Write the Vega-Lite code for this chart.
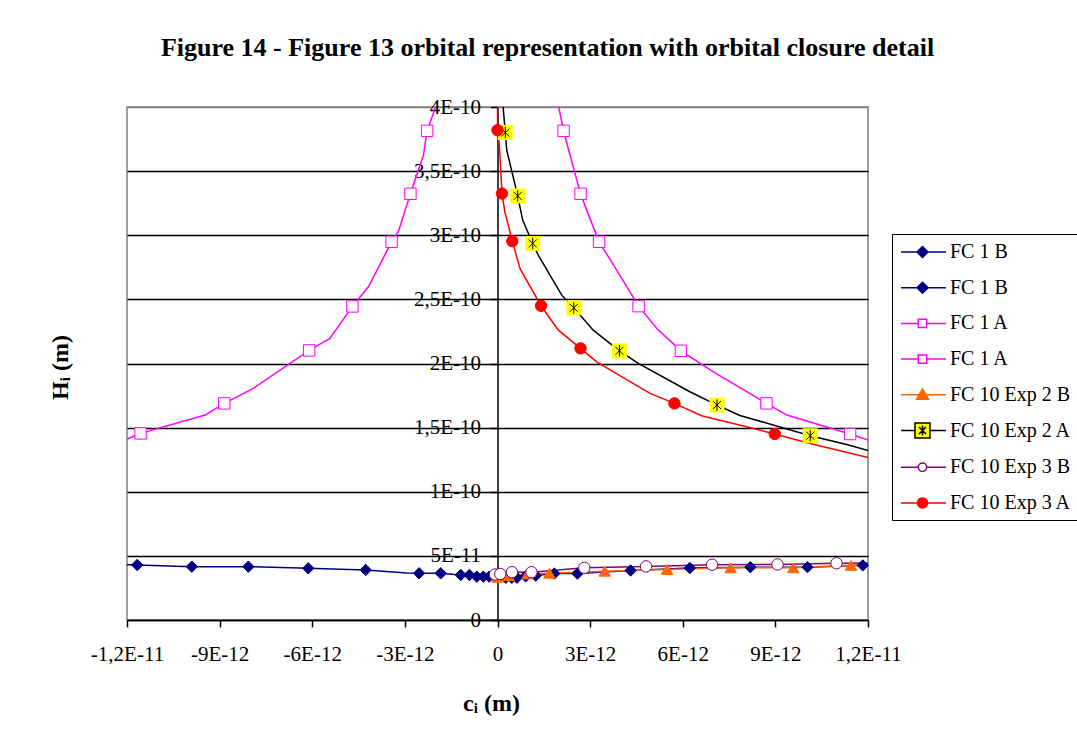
{
  "$schema": "https://vega.github.io/schema/vega-lite/v6.json",
  "width": 741,
  "height": 513,
  "autosize": {"type": "none"},
  "padding": {"left": 127, "top": 107, "right": 209, "bottom": 120},
  "background": "white",
  "title": {
    "text": "Figure 14 - Figure 13 orbital representation with orbital closure detail",
    "font": "Liberation Serif",
    "fontSize": 26,
    "fontWeight": "bold",
    "color": "black",
    "anchor": "middle",
    "frame": "group",
    "dx": 50,
    "offset": 35
  },
  "datasets": {
    "lines": [
      {"s": "FC 1 B", "i": 1, "c": -1.23e-11, "h": 4.34e-11},
      {"s": "FC 1 B", "i": 2, "c": -1.167e-11, "h": 4.29e-11},
      {"s": "FC 1 B", "i": 3, "c": -9.9e-12, "h": 4.16e-11},
      {"s": "FC 1 B", "i": 4, "c": -8.07e-12, "h": 4.16e-11},
      {"s": "FC 1 B", "i": 5, "c": -6.13e-12, "h": 4.03e-11},
      {"s": "FC 1 B", "i": 6, "c": -4.27e-12, "h": 3.9e-11},
      {"s": "FC 1 B", "i": 7, "c": -2.94e-12, "h": 3.66e-11},
      {"s": "FC 1 B", "i": 8, "c": -2.54e-12, "h": 3.64e-11},
      {"s": "FC 1 B", "i": 9, "c": -1.84e-12, "h": 3.64e-11},
      {"s": "FC 1 B", "i": 10, "c": -1.19e-12, "h": 3.51e-11},
      {"s": "FC 1 B", "i": 11, "c": -9.1e-13, "h": 3.51e-11},
      {"s": "FC 1 B", "i": 12, "c": -6.7e-13, "h": 3.38e-11},
      {"s": "FC 1 B", "i": 13, "c": -4.6e-13, "h": 3.38e-11},
      {"s": "FC 1 B", "i": 14, "c": -2.7e-13, "h": 3.38e-11},
      {"s": "FC 1 B ", "i": 1, "c": 2.7e-13, "h": 3.3e-11},
      {"s": "FC 1 B ", "i": 2, "c": 4.6e-13, "h": 3.3e-11},
      {"s": "FC 1 B ", "i": 3, "c": 6.3e-13, "h": 3.3e-11},
      {"s": "FC 1 B ", "i": 4, "c": 9.1e-13, "h": 3.4e-11},
      {"s": "FC 1 B ", "i": 5, "c": 1.24e-12, "h": 3.46e-11},
      {"s": "FC 1 B ", "i": 6, "c": 1.84e-12, "h": 3.62e-11},
      {"s": "FC 1 B ", "i": 7, "c": 2.59e-12, "h": 3.62e-11},
      {"s": "FC 1 B ", "i": 8, "c": 4.31e-12, "h": 3.86e-11},
      {"s": "FC 1 B ", "i": 9, "c": 6.23e-12, "h": 4.05e-11},
      {"s": "FC 1 B ", "i": 10, "c": 8.19e-12, "h": 4.12e-11},
      {"s": "FC 1 B ", "i": 11, "c": 1.004e-11, "h": 4.12e-11},
      {"s": "FC 1 B ", "i": 12, "c": 1.183e-11, "h": 4.26e-11},
      {"s": "FC 1 B ", "i": 13, "c": 1.23e-11, "h": 4.3e-11},
      {"s": "FC 1 A", "i": 1, "c": -1.23e-11, "h": 1.38e-10},
      {"s": "FC 1 A", "i": 2, "c": -1.156e-11, "h": 1.455e-10},
      {"s": "FC 1 A", "i": 3, "c": -9.47e-12, "h": 1.598e-10},
      {"s": "FC 1 A", "i": 4, "c": -8.85e-12, "h": 1.689e-10},
      {"s": "FC 1 A", "i": 5, "c": -7.91e-12, "h": 1.806e-10},
      {"s": "FC 1 A", "i": 6, "c": -6.1e-12, "h": 2.102e-10},
      {"s": "FC 1 A", "i": 7, "c": -5.43e-12, "h": 2.196e-10},
      {"s": "FC 1 A", "i": 8, "c": -4.7e-12, "h": 2.445e-10},
      {"s": "FC 1 A", "i": 9, "c": -4.18e-12, "h": 2.598e-10},
      {"s": "FC 1 A", "i": 10, "c": -3.43e-12, "h": 2.949e-10},
      {"s": "FC 1 A", "i": 11, "c": -3.21e-12, "h": 3.027e-10},
      {"s": "FC 1 A", "i": 12, "c": -2.94e-12, "h": 3.235e-10},
      {"s": "FC 1 A", "i": 13, "c": -2.82e-12, "h": 3.323e-10},
      {"s": "FC 1 A", "i": 14, "c": -2.4e-12, "h": 3.624e-10},
      {"s": "FC 1 A", "i": 15, "c": -2.28e-12, "h": 3.814e-10},
      {"s": "FC 1 A", "i": 16, "c": -2.02e-12, "h": 3.99e-10},
      {"s": "FC 1 A", "i": 17, "c": -1.9e-12, "h": 4.1e-10},
      {"s": "FC 1 A ", "i": 1, "c": 1.9e-12, "h": 4.1e-10},
      {"s": "FC 1 A ", "i": 2, "c": 1.95e-12, "h": 4.04e-10},
      {"s": "FC 1 A ", "i": 3, "c": 2.14e-12, "h": 3.814e-10},
      {"s": "FC 1 A ", "i": 4, "c": 2.29e-12, "h": 3.676e-10},
      {"s": "FC 1 A ", "i": 5, "c": 2.69e-12, "h": 3.323e-10},
      {"s": "FC 1 A ", "i": 6, "c": 2.89e-12, "h": 3.196e-10},
      {"s": "FC 1 A ", "i": 7, "c": 3.29e-12, "h": 2.949e-10},
      {"s": "FC 1 A ", "i": 8, "c": 3.86e-12, "h": 2.728e-10},
      {"s": "FC 1 A ", "i": 9, "c": 4.57e-12, "h": 2.447e-10},
      {"s": "FC 1 A ", "i": 10, "c": 5.16e-12, "h": 2.273e-10},
      {"s": "FC 1 A ", "i": 11, "c": 5.94e-12, "h": 2.099e-10},
      {"s": "FC 1 A ", "i": 12, "c": 6.99e-12, "h": 1.935e-10},
      {"s": "FC 1 A ", "i": 13, "c": 8.71e-12, "h": 1.689e-10},
      {"s": "FC 1 A ", "i": 14, "c": 9.37e-12, "h": 1.598e-10},
      {"s": "FC 1 A ", "i": 15, "c": 1.142e-11, "h": 1.45e-10},
      {"s": "FC 1 A ", "i": 16, "c": 1.23e-11, "h": 1.38e-10},
      {"s": "FC 10 Exp 2 B", "i": 1, "c": 0, "h": 3.33e-11},
      {"s": "FC 10 Exp 2 B", "i": 2, "c": 3.6e-13, "h": 3.46e-11},
      {"s": "FC 10 Exp 2 B", "i": 3, "c": 9.7e-13, "h": 3.59e-11},
      {"s": "FC 10 Exp 2 B", "i": 4, "c": 1.68e-12, "h": 3.65e-11},
      {"s": "FC 10 Exp 2 B", "i": 5, "c": 3.47e-12, "h": 3.8e-11},
      {"s": "FC 10 Exp 2 B", "i": 6, "c": 5.49e-12, "h": 3.94e-11},
      {"s": "FC 10 Exp 2 B", "i": 7, "c": 7.55e-12, "h": 4.07e-11},
      {"s": "FC 10 Exp 2 B", "i": 8, "c": 9.58e-12, "h": 4.07e-11},
      {"s": "FC 10 Exp 2 B", "i": 9, "c": 1.145e-11, "h": 4.26e-11},
      {"s": "FC 10 Exp 2 B", "i": 10, "c": 1.23e-11, "h": 4.3e-11},
      {"s": "FC 10 Exp 2 A", "i": 1, "c": 1.6e-13, "h": 4.06e-10},
      {"s": "FC 10 Exp 2 A", "i": 2, "c": 2.53e-13, "h": 3.801e-10},
      {"s": "FC 10 Exp 2 A", "i": 3, "c": 3.0e-13, "h": 3.663e-10},
      {"s": "FC 10 Exp 2 A", "i": 4, "c": 6.54e-13, "h": 3.307e-10},
      {"s": "FC 10 Exp 2 A", "i": 5, "c": 8.16e-13, "h": 3.118e-10},
      {"s": "FC 10 Exp 2 A", "i": 6, "c": 1.14e-12, "h": 2.936e-10},
      {"s": "FC 10 Exp 2 A", "i": 7, "c": 1.32e-12, "h": 2.845e-10},
      {"s": "FC 10 Exp 2 A", "i": 8, "c": 2.08e-12, "h": 2.533e-10},
      {"s": "FC 10 Exp 2 A", "i": 9, "c": 2.47e-12, "h": 2.434e-10},
      {"s": "FC 10 Exp 2 A", "i": 10, "c": 3.1e-12, "h": 2.26e-10},
      {"s": "FC 10 Exp 2 A", "i": 11, "c": 3.95e-12, "h": 2.099e-10},
      {"s": "FC 10 Exp 2 A", "i": 12, "c": 4.56e-12, "h": 2.001e-10},
      {"s": "FC 10 Exp 2 A", "i": 13, "c": 6.23e-12, "h": 1.78e-10},
      {"s": "FC 10 Exp 2 A", "i": 14, "c": 7.11e-12, "h": 1.676e-10},
      {"s": "FC 10 Exp 2 A", "i": 15, "c": 7.85e-12, "h": 1.595e-10},
      {"s": "FC 10 Exp 2 A", "i": 16, "c": 1.013e-11, "h": 1.437e-10},
      {"s": "FC 10 Exp 2 A", "i": 17, "c": 1.131e-11, "h": 1.369e-10},
      {"s": "FC 10 Exp 2 A", "i": 18, "c": 1.23e-11, "h": 1.3e-10},
      {"s": "FC 10 Exp 3 B", "i": 1, "c": -8e-14, "h": 3.55e-11},
      {"s": "FC 10 Exp 3 B", "i": 2, "c": 9e-14, "h": 3.59e-11},
      {"s": "FC 10 Exp 3 B", "i": 3, "c": 4.7e-13, "h": 3.73e-11},
      {"s": "FC 10 Exp 3 B", "i": 4, "c": 1.1e-12, "h": 3.73e-11},
      {"s": "FC 10 Exp 3 B", "i": 5, "c": 2.81e-12, "h": 4.07e-11},
      {"s": "FC 10 Exp 3 B", "i": 6, "c": 4.81e-12, "h": 4.18e-11},
      {"s": "FC 10 Exp 3 B", "i": 7, "c": 6.95e-12, "h": 4.31e-11},
      {"s": "FC 10 Exp 3 B", "i": 8, "c": 9.07e-12, "h": 4.33e-11},
      {"s": "FC 10 Exp 3 B", "i": 9, "c": 1.098e-11, "h": 4.43e-11},
      {"s": "FC 10 Exp 3 B", "i": 10, "c": 1.23e-11, "h": 4.45e-11},
      {"s": "FC 10 Exp 3 A", "i": 1, "c": 0, "h": 4.06e-10},
      {"s": "FC 10 Exp 3 A", "i": 2, "c": 0, "h": 3.819e-10},
      {"s": "FC 10 Exp 3 A", "i": 3, "c": 6e-14, "h": 3.7e-10},
      {"s": "FC 10 Exp 3 A", "i": 4, "c": 1.46e-13, "h": 3.325e-10},
      {"s": "FC 10 Exp 3 A", "i": 5, "c": 2.4e-13, "h": 3.18e-10},
      {"s": "FC 10 Exp 3 A", "i": 6, "c": 4.8e-13, "h": 2.954e-10},
      {"s": "FC 10 Exp 3 A", "i": 7, "c": 7.3e-13, "h": 2.74e-10},
      {"s": "FC 10 Exp 3 A", "i": 8, "c": 1.41e-12, "h": 2.45e-10},
      {"s": "FC 10 Exp 3 A", "i": 9, "c": 1.97e-12, "h": 2.26e-10},
      {"s": "FC 10 Exp 3 A", "i": 10, "c": 2.69e-12, "h": 2.118e-10},
      {"s": "FC 10 Exp 3 A", "i": 11, "c": 3.21e-12, "h": 2.013e-10},
      {"s": "FC 10 Exp 3 A", "i": 12, "c": 4.94e-12, "h": 1.767e-10},
      {"s": "FC 10 Exp 3 A", "i": 13, "c": 5.73e-12, "h": 1.689e-10},
      {"s": "FC 10 Exp 3 A", "i": 14, "c": 6.61e-12, "h": 1.593e-10},
      {"s": "FC 10 Exp 3 A", "i": 15, "c": 8.07e-12, "h": 1.507e-10},
      {"s": "FC 10 Exp 3 A", "i": 16, "c": 8.98e-12, "h": 1.45e-10},
      {"s": "FC 10 Exp 3 A", "i": 17, "c": 1.012e-11, "h": 1.377e-10},
      {"s": "FC 10 Exp 3 A", "i": 18, "c": 1.23e-11, "h": 1.25e-10}
    ],
    "marks": [
      {"s": "FC 1 B", "c": -1.167e-11, "h": 4.29e-11},
      {"s": "FC 1 B", "c": -9.9e-12, "h": 4.16e-11},
      {"s": "FC 1 B", "c": -8.07e-12, "h": 4.16e-11},
      {"s": "FC 1 B", "c": -6.13e-12, "h": 4.03e-11},
      {"s": "FC 1 B", "c": -4.27e-12, "h": 3.9e-11},
      {"s": "FC 1 B", "c": -2.54e-12, "h": 3.64e-11},
      {"s": "FC 1 B", "c": -1.84e-12, "h": 3.64e-11},
      {"s": "FC 1 B", "c": -1.19e-12, "h": 3.51e-11},
      {"s": "FC 1 B", "c": -9.1e-13, "h": 3.51e-11},
      {"s": "FC 1 B", "c": -6.7e-13, "h": 3.38e-11},
      {"s": "FC 1 B", "c": -4.6e-13, "h": 3.38e-11},
      {"s": "FC 1 B", "c": -2.7e-13, "h": 3.38e-11},
      {"s": "FC 1 B ", "c": 2.7e-13, "h": 3.3e-11},
      {"s": "FC 1 B ", "c": 4.6e-13, "h": 3.3e-11},
      {"s": "FC 1 B ", "c": 6.3e-13, "h": 3.3e-11},
      {"s": "FC 1 B ", "c": 9.1e-13, "h": 3.4e-11},
      {"s": "FC 1 B ", "c": 1.24e-12, "h": 3.46e-11},
      {"s": "FC 1 B ", "c": 1.84e-12, "h": 3.62e-11},
      {"s": "FC 1 B ", "c": 2.59e-12, "h": 3.62e-11},
      {"s": "FC 1 B ", "c": 4.31e-12, "h": 3.86e-11},
      {"s": "FC 1 B ", "c": 6.23e-12, "h": 4.05e-11},
      {"s": "FC 1 B ", "c": 8.19e-12, "h": 4.12e-11},
      {"s": "FC 1 B ", "c": 1.004e-11, "h": 4.12e-11},
      {"s": "FC 1 B ", "c": 1.183e-11, "h": 4.26e-11},
      {"s": "FC 1 A", "c": -1.156e-11, "h": 1.455e-10},
      {"s": "FC 1 A", "c": -8.85e-12, "h": 1.689e-10},
      {"s": "FC 1 A", "c": -6.1e-12, "h": 2.102e-10},
      {"s": "FC 1 A", "c": -4.7e-12, "h": 2.445e-10},
      {"s": "FC 1 A", "c": -3.43e-12, "h": 2.949e-10},
      {"s": "FC 1 A", "c": -2.82e-12, "h": 3.323e-10},
      {"s": "FC 1 A", "c": -2.28e-12, "h": 3.814e-10},
      {"s": "FC 1 A ", "c": 2.14e-12, "h": 3.814e-10},
      {"s": "FC 1 A ", "c": 2.69e-12, "h": 3.323e-10},
      {"s": "FC 1 A ", "c": 3.29e-12, "h": 2.949e-10},
      {"s": "FC 1 A ", "c": 4.57e-12, "h": 2.447e-10},
      {"s": "FC 1 A ", "c": 5.94e-12, "h": 2.099e-10},
      {"s": "FC 1 A ", "c": 8.71e-12, "h": 1.689e-10},
      {"s": "FC 1 A ", "c": 1.142e-11, "h": 1.45e-10},
      {"s": "FC 10 Exp 2 B", "c": 0, "h": 3.33e-11},
      {"s": "FC 10 Exp 2 B", "c": 3.6e-13, "h": 3.46e-11},
      {"s": "FC 10 Exp 2 B", "c": 9.7e-13, "h": 3.59e-11},
      {"s": "FC 10 Exp 2 B", "c": 1.68e-12, "h": 3.65e-11},
      {"s": "FC 10 Exp 2 B", "c": 3.47e-12, "h": 3.8e-11},
      {"s": "FC 10 Exp 2 B", "c": 5.49e-12, "h": 3.94e-11},
      {"s": "FC 10 Exp 2 B", "c": 7.55e-12, "h": 4.07e-11},
      {"s": "FC 10 Exp 2 B", "c": 9.58e-12, "h": 4.07e-11},
      {"s": "FC 10 Exp 2 B", "c": 1.145e-11, "h": 4.26e-11},
      {"s": "FC 10 Exp 2 A", "c": 2.53e-13, "h": 3.801e-10},
      {"s": "FC 10 Exp 2 A", "c": 6.54e-13, "h": 3.307e-10},
      {"s": "FC 10 Exp 2 A", "c": 1.14e-12, "h": 2.936e-10},
      {"s": "FC 10 Exp 2 A", "c": 2.47e-12, "h": 2.434e-10},
      {"s": "FC 10 Exp 2 A", "c": 3.95e-12, "h": 2.099e-10},
      {"s": "FC 10 Exp 2 A", "c": 7.11e-12, "h": 1.676e-10},
      {"s": "FC 10 Exp 2 A", "c": 1.013e-11, "h": 1.437e-10},
      {"s": "FC 10 Exp 3 B", "c": -8e-14, "h": 3.55e-11},
      {"s": "FC 10 Exp 3 B", "c": 9e-14, "h": 3.59e-11},
      {"s": "FC 10 Exp 3 B", "c": 4.7e-13, "h": 3.73e-11},
      {"s": "FC 10 Exp 3 B", "c": 1.1e-12, "h": 3.73e-11},
      {"s": "FC 10 Exp 3 B", "c": 2.81e-12, "h": 4.07e-11},
      {"s": "FC 10 Exp 3 B", "c": 4.81e-12, "h": 4.18e-11},
      {"s": "FC 10 Exp 3 B", "c": 6.95e-12, "h": 4.31e-11},
      {"s": "FC 10 Exp 3 B", "c": 9.07e-12, "h": 4.33e-11},
      {"s": "FC 10 Exp 3 B", "c": 1.098e-11, "h": 4.43e-11},
      {"s": "FC 10 Exp 3 A", "c": 0, "h": 3.819e-10},
      {"s": "FC 10 Exp 3 A", "c": 1.46e-13, "h": 3.325e-10},
      {"s": "FC 10 Exp 3 A", "c": 4.8e-13, "h": 2.954e-10},
      {"s": "FC 10 Exp 3 A", "c": 1.41e-12, "h": 2.45e-10},
      {"s": "FC 10 Exp 3 A", "c": 2.69e-12, "h": 2.118e-10},
      {"s": "FC 10 Exp 3 A", "c": 5.73e-12, "h": 1.689e-10},
      {"s": "FC 10 Exp 3 A", "c": 8.98e-12, "h": 1.45e-10}
    ]
  },
  "layer": [
    {
      "data": {"name": "lines"},
      "mark": {"type": "line", "strokeWidth": 1.5, "clip": true},
      "encoding": {
        "x": {
          "field": "c",
          "type": "quantitative",
          "scale": {"domain": [-1.2e-11, 1.2e-11], "nice": false, "zero": false},
          "axis": {
            "values": [-1.2e-11, -9e-12, -6e-12, -3e-12, 0, 3e-12, 6e-12, 9e-12, 1.2e-11],
            "labelExpr": "datum.value == 0 ? '0' : replace(replace(replace(format(datum.value, '.2~e'), '.', ','), 'e', 'E'), '−', '-')",
            "grid": false,
            "domainColor": "black",
            "domainWidth": 1.5,
            "tickColor": "black",
            "tickSize": 7,
            "tickWidth": 1.5,
            "labelFont": "Liberation Serif",
            "labelFontSize": 21,
            "labelColor": "black",
            "labelPadding": 16,
            "labelFlush": false,
            "labelOverlap": false,
            "title": "cᵢ (m)",
            "titleFont": "Liberation Serif",
            "titleFontSize": 24,
            "titleFontWeight": "bold",
            "titleColor": "black",
            "titleX": 364,
            "titleY": 83,
            "titleAlign": "center",
            "titleBaseline": "middle"
          }
        },
        "y": {
          "field": "h",
          "type": "quantitative",
          "scale": {"domain": [0, 4e-10], "nice": false, "zero": false},
          "axis": {
            "values": [0, 5e-11, 1e-10, 1.5e-10, 2e-10, 2.5e-10, 3e-10, 3.5e-10, 4e-10],
            "labelExpr": "datum.value == 0 ? '0' : replace(replace(replace(format(datum.value, '.2~e'), '.', ','), 'e', 'E'), '−', '-')",
            "offset": -370.5,
            "grid": true,
            "gridColor": {"condition": {"test": "datum.value > 3.9e-10", "value": "#808080"}, "value": "black"},
            "gridWidth": 1.3,
            "domainColor": "black",
            "domainWidth": 1.5,
            "tickColor": "black",
            "tickSize": 7,
            "tickWidth": 1.5,
            "labelFont": "Liberation Serif",
            "labelFontSize": 21,
            "labelColor": "black",
            "labelPadding": 10,
            "labelFlush": false,
            "labelOverlap": false,
            "title": "Hᵢ (m)",
            "titleFont": "Liberation Serif",
            "titleFontSize": 24,
            "titleFontWeight": "bold",
            "titleColor": "black",
            "titleX": -437.5,
            "titleY": 260,
            "titleAngle": -90,
            "titleAlign": "center",
            "titleBaseline": "middle"
          }
        },
        "stroke": {
          "field": "s",
          "type": "nominal",
          "scale": {
            "domain": ["FC 1 B", "FC 1 B ", "FC 1 A", "FC 1 A ", "FC 10 Exp 2 B", "FC 10 Exp 2 A", "FC 10 Exp 3 B", "FC 10 Exp 3 A"],
            "range": ["#000080", "#000080", "#FF00FF", "#FF00FF", "#FF6600", "#000000", "#800080", "#FF0000"]
          },
          "legend": null
        },
        "order": {"field": "i", "type": "quantitative"}
      }
    },
    {
      "data": {"name": "marks"},
      "transform": [{"filter": "datum.s === 'FC 10 Exp 2 A'"}],
      "mark": {"type": "square", "fill": "#FFFF00", "size": 225, "opacity": 1, "strokeWidth": 0},
      "encoding": {
        "x": {"field": "c", "type": "quantitative"},
        "y": {"field": "h", "type": "quantitative"}
      }
    },
    {
      "data": {"name": "marks"},
      "mark": {"type": "point", "filled": true, "opacity": 1},
      "encoding": {
        "x": {"field": "c", "type": "quantitative"},
        "y": {"field": "h", "type": "quantitative"},
        "stroke": {
          "field": "s",
          "type": "nominal",
          "scale": {
            "domain": ["FC 1 B", "FC 1 B ", "FC 1 A", "FC 1 A ", "FC 10 Exp 2 B", "FC 10 Exp 2 A", "FC 10 Exp 3 B", "FC 10 Exp 3 A"],
            "range": ["#000080", "#000080", "#FF00FF", "#FF00FF", "#FF6600", "#000000", "#800080", "#FF0000"]
          },
          "legend": null
        },
        "fill": {
          "field": "s",
          "type": "nominal",
          "scale": {
            "domain": ["FC 1 B", "FC 1 B ", "FC 1 A", "FC 1 A ", "FC 10 Exp 2 B", "FC 10 Exp 2 A", "FC 10 Exp 3 B", "FC 10 Exp 3 A"],
            "range": ["#000080", "#000080", "#FFFFFF", "#FFFFFF", "#FF6600", "#000000", "#FFFFFF", "#FF0000"]
          },
          "legend": null
        },
        "shape": {
          "field": "s",
          "type": "nominal",
          "scale": {
            "domain": ["FC 1 B", "FC 1 B ", "FC 1 A", "FC 1 A ", "FC 10 Exp 2 B", "FC 10 Exp 2 A", "FC 10 Exp 3 B", "FC 10 Exp 3 A"],
            "range": ["diamond", "diamond", "square", "square", "triangle-up", "M-0.7,-0.7L0.7,0.7M0.7,-0.7L-0.7,0.7M0,-1L0,1", "circle", "circle"]
          },
          "legend": null
        },
        "size": {
          "field": "s",
          "type": "ordinal",
          "scale": {
            "domain": ["FC 1 B", "FC 1 B ", "FC 1 A", "FC 1 A ", "FC 10 Exp 2 B", "FC 10 Exp 2 A", "FC 10 Exp 3 B", "FC 10 Exp 3 A"],
            "range": [130, 130, 90, 90, 130, 130, 90, 110]
          },
          "legend": null
        },
        "strokeWidth": {
          "field": "s",
          "type": "ordinal",
          "scale": {
            "domain": ["FC 1 B", "FC 1 B ", "FC 1 A", "FC 1 A ", "FC 10 Exp 2 B", "FC 10 Exp 2 A", "FC 10 Exp 3 B", "FC 10 Exp 3 A"],
            "range": [1, 1, 1.5, 1.5, 1, 2.2, 1.5, 1]
          },
          "legend": null
        }
      }
    },
    {
      "data": {"name": "marks"},
      "transform": [{"filter": "false"}],
      "mark": {"type": "point", "filled": true, "opacity": 1},
      "encoding": {
        "x": {"field": "c", "type": "quantitative"},
        "y": {"field": "h", "type": "quantitative"},
        "shape": {
          "field": "s",
          "type": "nominal",
          "scale": {
            "domain": ["FC 1 B", "FC 1 B ", "FC 1 A", "FC 1 A ", "FC 10 Exp 2 B", "FC 10 Exp 2 A", "FC 10 Exp 3 B", "FC 10 Exp 3 A"],
            "range": [
              "M-0.9,0H3.6M1.25,-0.55L1.8,0L1.25,0.55L0.7,0Z",
              "M-0.9,0H3.6M1.25,-0.55L1.8,0L1.25,0.55L0.7,0Z",
              "M-0.9,0H0.83M1.67,0H3.6M0.83,-0.42H1.67V0.42H0.83Z",
              "M-0.9,0H0.83M1.67,0H3.6M0.83,-0.42H1.67V0.42H0.83Z",
              "M-0.9,0H3.6M1.25,-0.6L1.85,0.45L0.65,0.45Z",
              "M-0.9,0H0.5M2,0H3.6M0.5,-0.75H2V0.75H0.5ZM0.9,-0.35L1.6,0.35M1.6,-0.35L0.9,0.35M1.25,-0.5V0.5",
              "M-0.9,0H0.83M1.67,0H3.6M1.67,0A0.42,0.42,0,1,1,0.83,0A0.42,0.42,0,1,1,1.67,0Z",
              "M-0.9,0H3.6M1.75,0A0.5,0.5,0,1,1,0.75,0A0.5,0.5,0,1,1,1.75,0Z"
            ]
          },
          "legend": {
            "orient": "none",
            "legendX": 765,
            "legendY": 127,
            "title": null,
            "padding": 7,
            "strokeColor": "black",
            "fillColor": "white",
            "symbolSize": 400,
            "symbolStrokeWidth": 1.5,
            "symbolOpacity": 1,
            "rowPadding": 14.7,
            "labelOffset": 29,
            "labelFont": "Liberation Serif",
            "labelFontSize": 20,
            "labelColor": "black",
            "labelLimit": 220
          }
        },
        "fill": {
          "field": "s",
          "type": "nominal",
          "scale": {
            "domain": ["FC 1 B", "FC 1 B ", "FC 1 A", "FC 1 A ", "FC 10 Exp 2 B", "FC 10 Exp 2 A", "FC 10 Exp 3 B", "FC 10 Exp 3 A"],
            "range": ["#000080", "#000080", "#FFFFFF", "#FFFFFF", "#FF6600", "#FFFF00", "#FFFFFF", "#FF0000"]
          }
        },
        "stroke": {
          "field": "s",
          "type": "nominal",
          "scale": {
            "domain": ["FC 1 B", "FC 1 B ", "FC 1 A", "FC 1 A ", "FC 10 Exp 2 B", "FC 10 Exp 2 A", "FC 10 Exp 3 B", "FC 10 Exp 3 A"],
            "range": ["#000080", "#000080", "#FF00FF", "#FF00FF", "#FF6600", "#000000", "#800080", "#FF0000"]
          }
        }
      }
    }
  ],
  "resolve": {"scale": {"shape": "independent", "fill": "independent", "stroke": "independent"}},
  "config": {
    "font": "Liberation Serif",
    "view": {"stroke": "#808080", "strokeWidth": 1.5}
  }
}
